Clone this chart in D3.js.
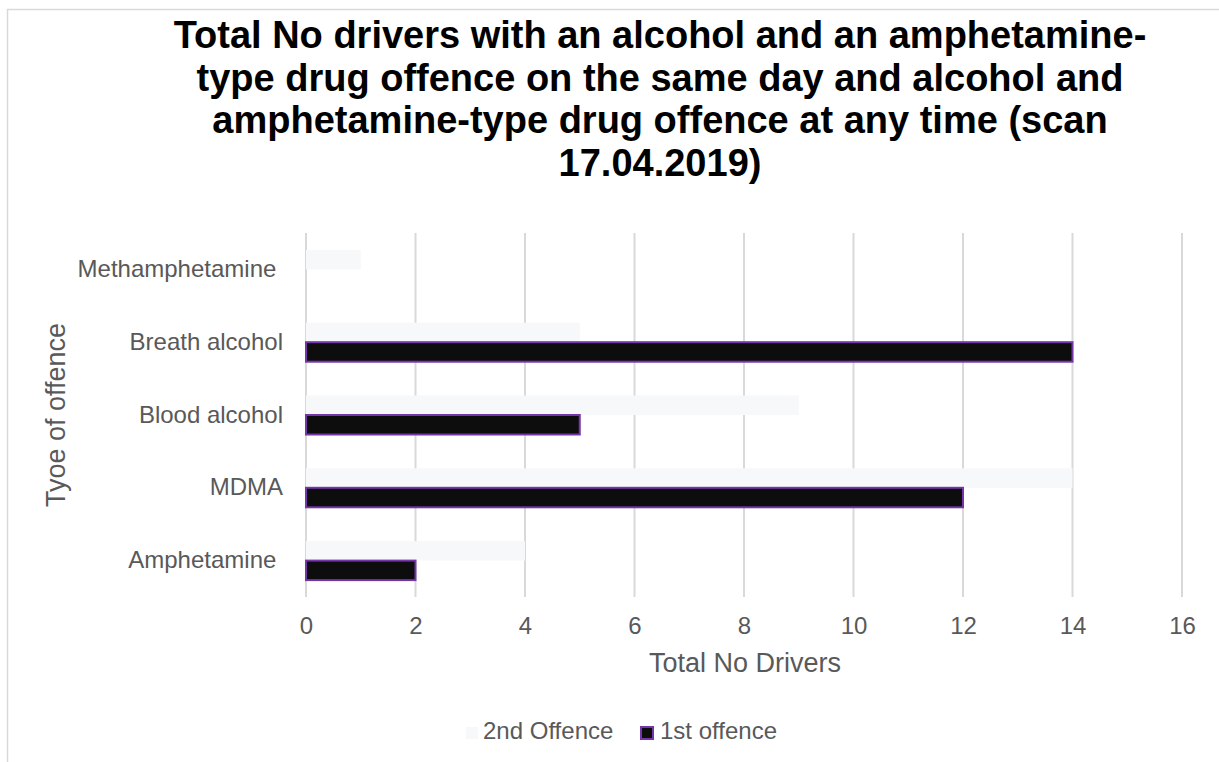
<!DOCTYPE html>
<html>
<head>
<meta charset="utf-8">
<script src="https://cdn.jsdelivr.net/npm/d3@7/dist/d3.min.js"></script>
<style>
  html, body { margin: 0; padding: 0; background: #fff; }
  svg { display: block; font-family: "Liberation Sans", Arial, sans-serif; }
</style>
</head>
<body>
<svg id="chart" width="1219" height="762"></svg>
<script>
// Offence categories, listed bottom to top as they appear on the axis
const categories = ["Amphetamine ", "MDMA", "Blood alcohol", "Breath alcohol", "Methamphetamine "];
const firstOffence = [2, 12, 5, 14, 0];
const secondOffence = [4, 14, 9, 5, 1];
const xTicks = [0, 2, 4, 6, 8, 10, 12, 14, 16];
const seriesNames = ["2nd Offence", "1st offence"];
const titleLines = [
  "Total No drivers with an alcohol and an amphetamine-",
  "type drug offence on the same day and alcohol and",
  "amphetamine-type drug offence at any time (scan",
  "17.04.2019)"
];

const svg = d3.select("#chart");
const fontFamily = "Liberation Sans, Arial, sans-serif";

// Chart frame
svg.append("rect")
  .attr("x", 7.5).attr("y", 9.5)
  .attr("width", 1300).attr("height", 900)
  .attr("fill", "#fff").attr("stroke", "#d9d9d9").attr("stroke-width", 1.5);

const plot = { left: 306, right: 1182, top: 233, bottom: 597 };

const x = d3.scaleLinear().domain([0, 16]).range([plot.left, plot.right]);
const y = d3.scaleBand().domain(categories).range([plot.bottom, plot.top]).paddingInner(0).paddingOuter(0);
const barH = 19.5;

// Title
svg.append("g").selectAll("text").data(titleLines).join("text")
  .attr("x", 660).attr("y", (d, i) => 48 + i * 42.5)
  .attr("text-anchor", "middle")
  .attr("font-size", 38).attr("font-weight", "bold").attr("fill", "#000")
  .text(d => d);

// Vertical gridlines
svg.append("g").selectAll("line").data(xTicks).join("line")
  .attr("x1", d => x(d)).attr("x2", d => x(d))
  .attr("y1", plot.top).attr("y2", plot.bottom)
  .attr("stroke", "#d9d9d9").attr("stroke-width", 2);

// 2nd offence bars (upper half of each band)
svg.append("g").selectAll("rect").data(categories).join("rect")
  .attr("x", x(0))
  .attr("y", d => y(d) + y.bandwidth() / 2 - barH)
  .attr("width", (d, i) => x(secondOffence[i]) - x(0))
  .attr("height", barH)
  .attr("fill", "#f7f8fa");

// 1st offence bars (lower half of each band)
svg.append("g").selectAll("rect").data(categories.filter((d, i) => firstOffence[i] > 0)).join("rect")
  .attr("x", x(0))
  .attr("y", d => y(d) + y.bandwidth() / 2)
  .attr("width", d => x(firstOffence[categories.indexOf(d)]) - x(0))
  .attr("height", barH)
  .attr("fill", "#0d0d0d")
  .attr("stroke", "#7436a8").attr("stroke-width", 2);

// X axis tick labels
const xAxis = d3.axisBottom(x).tickValues(xTicks).tickSize(0).tickPadding(0);
const gx = svg.append("g").attr("transform", `translate(0,617)`).call(xAxis);
gx.select(".domain").remove();
gx.selectAll("text")
  .attr("font-size", 24).attr("fill", "#595959")
  .attr("font-family", fontFamily);

// Y axis category labels
const yAxis = d3.axisLeft(y).tickSize(0).tickPadding(23);
const gy = svg.append("g").attr("transform", `translate(${plot.left},0)`).call(yAxis);
gy.select(".domain").remove();
gy.selectAll("text")
  .attr("font-size", 24).attr("fill", "#595959")
  .attr("font-family", fontFamily)
  .style("white-space", "pre");

// Axis titles
svg.append("text")
  .attr("x", (plot.left + plot.right) / 2 + 1).attr("y", 672)
  .attr("text-anchor", "middle").attr("font-size", 27).attr("fill", "#595959")
  .text("Total No Drivers");

svg.append("text")
  .attr("transform", `translate(65,${(plot.top + plot.bottom) / 2}) rotate(-90)`)
  .attr("text-anchor", "middle").attr("font-size", 27).attr("fill", "#595959")
  .text("Tyoe of offence");

// Legend
const legendItems = [
  { name: seriesNames[0], x: 466, fill: "#f7f8fa", stroke: "none" },
  { name: seriesNames[1], x: 641, fill: "#0d0d0d", stroke: "#7436a8" }
];
const li = svg.append("g").selectAll("g").data(legendItems).join("g")
  .attr("transform", d => `translate(${d.x},739)`);
li.append("rect")
  .attr("x", 0).attr("y", -12).attr("width", 12).attr("height", 12)
  .attr("fill", d => d.fill).attr("stroke", d => d.stroke).attr("stroke-width", 2);
li.append("text")
  .attr("x", d => d.stroke === "none" ? 17 : 19).attr("y", 0)
  .attr("font-size", 24).attr("fill", "#595959")
  .text(d => d.name);
</script>
</body>
</html>
